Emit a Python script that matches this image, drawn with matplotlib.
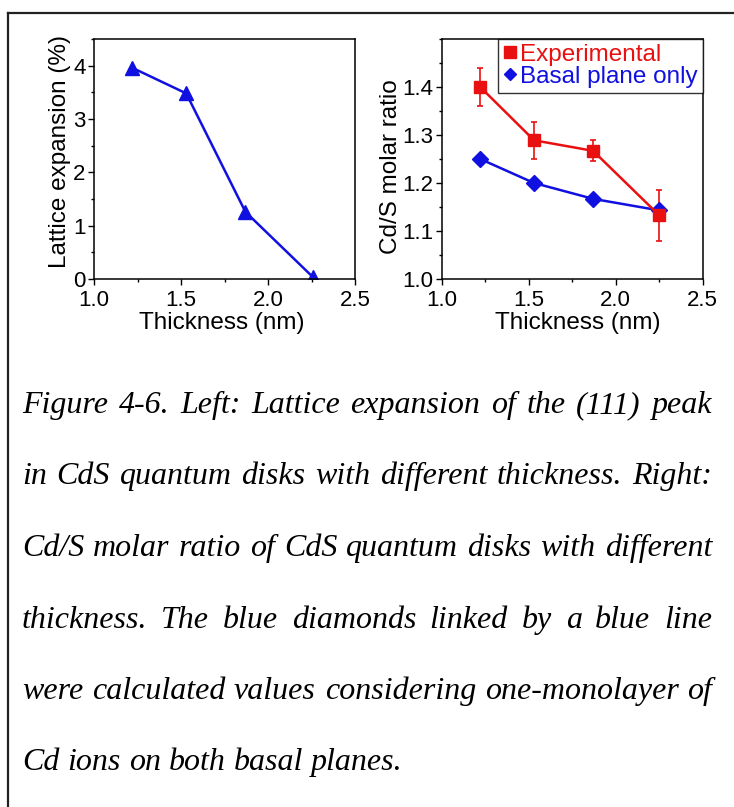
import numpy as np
import matplotlib
matplotlib.use('Agg')
import matplotlib.pyplot as plt
from matplotlib.lines import Line2D
from matplotlib.ticker import MultipleLocator

plt.rcParams['font.family'] = ['Liberation Sans', 'DejaVu Sans']

# left panel: lattice expansion
thick_left = [1.22, 1.53, 1.87, 2.26]
expansion = [3.96, 3.48, 1.26, 0.03]

# right panel: Cd/S molar ratio
thick_right = [1.22, 1.53, 1.87, 2.25]
ratio_exp = [1.400, 1.289, 1.267, 1.133]
ratio_err = [0.040, 0.039, 0.022, 0.053]
ratio_basal = [1.250, 1.200, 1.167, 1.143]

caption_lines = [
    "Figure 4-6. Left: Lattice expansion of the (111) peak",
    "in CdS quantum disks with different thickness. Right:",
    "Cd/S molar ratio of CdS quantum disks with different",
    "thickness. The blue diamonds linked by a blue line",
    "were calculated values considering one-monolayer of",
    "Cd ions on both basal planes.",
]

W, H = 734, 807
fig = plt.figure(figsize=(W / 100, H / 100), dpi=100)

blue = '#1010e0'
red = '#e81010'


def style_axes(ax):
    for s in ax.spines.values():
        s.set_linewidth(1.1)
    ax.tick_params(which='major', direction='out', length=4, width=1,
                   labelsize=16, top=False, right=False, pad=2)
    ax.tick_params(axis='x', which='major', pad=4)
    ax.tick_params(which='minor', direction='out', length=2.5, width=1,
                   top=False, right=False)
    ax.set_xlim(1.0, 2.5)
    ax.xaxis.set_minor_locator(MultipleLocator(0.25))
    ax.set_xticks([1.0, 1.5, 2.0, 2.5])
    ax.set_xticklabels(['1.0', '1.5', '2.0', '2.5'])
    ax.set_xlabel('Thickness (nm)', fontsize=17.5)


# left axes
ax1 = fig.add_axes([94 / W, 1 - 279 / H, 261 / W, 240 / H])
style_axes(ax1)
ax1.plot(thick_left, expansion, color=blue, lw=1.8, marker='^', ms=10)
ax1.set_ylim(0, 4.5)
ax1.yaxis.set_major_locator(MultipleLocator(1))
ax1.yaxis.set_minor_locator(MultipleLocator(0.5))
ax1.set_ylabel('Lattice expansion (%)', fontsize=17.5)
ax1.yaxis.set_label_coords(-0.088, 0.53)
ax1.xaxis.set_label_coords(0.49, -0.138)

# right axes
ax2 = fig.add_axes([442 / W, 1 - 279 / H, 260.5 / W, 240 / H])
style_axes(ax2)
ax2.errorbar(thick_right, ratio_exp, yerr=ratio_err, color=red, lw=1.8,
             marker='s', ms=9, capsize=2.5, elinewidth=1.2, capthick=1.2)
ax2.plot(thick_right, ratio_basal, color=blue, lw=1.8, marker='D', ms=8)
ax2.set_ylim(1.0, 1.5)
ax2.set_yticks([1.0, 1.1, 1.2, 1.3, 1.4])
ax2.yaxis.set_minor_locator(MultipleLocator(0.05))
ax2.set_ylabel('Cd/S molar ratio', fontsize=17.5)
ax2.yaxis.set_label_coords(-0.152, 0.47)
ax2.xaxis.set_label_coords(0.52, -0.138)

handles = [Line2D([], [], ls='none', marker='s', ms=8, color=red),
           Line2D([], [], ls='none', marker='D', ms=6.5, color=blue)]
leg = ax2.legend(handles, ['Experimental', 'Basal plane only'],
                 loc='upper right', fontsize=17.5, frameon=True, fancybox=False,
                 borderaxespad=0, borderpad=0.2, labelspacing=0,
                 handlelength=0.6, handletextpad=0.1)
leg.get_frame().set_edgecolor('black')
leg.get_frame().set_linewidth(1.0)
for txt, c in zip(leg.get_texts(), [red, blue]):
    txt.set_color(c)

# page border (top and left only)
fig.add_artist(Line2D([8 / W, 1], [1 - 13 / H, 1 - 13 / H], color='#222222', lw=1.6))
fig.add_artist(Line2D([8 / W, 8 / W], [1 - 13 / H, 0], color='#222222', lw=1.6))

# justified caption
renderer = fig.canvas.get_renderer()
x_left, x_right = 22, 712
baselines = [413, 484, 556, 628, 699, 770]
cap_size = 23
cap_font = dict(family=['Liberation Serif', 'DejaVu Serif'], style='italic',
                fontsize=cap_size, va='baseline', ha='left')
for i, (line, yb) in enumerate(zip(caption_lines, baselines)):
    words = line.split(' ')
    texts = [fig.text(0, 1 - yb / H, w, **cap_font) for w in words]
    widths = [t.get_window_extent(renderer).width for t in texts]
    if i < len(caption_lines) - 1:
        gap = (x_right - x_left - sum(widths)) / (len(words) - 1)
    else:
        gap = cap_size * 0.25 * 100 / 72
    x = x_left
    for t, wd in zip(texts, widths):
        t.set_x(x / W)
        x += wd + gap

fig.savefig('out.png', dpi=100)
